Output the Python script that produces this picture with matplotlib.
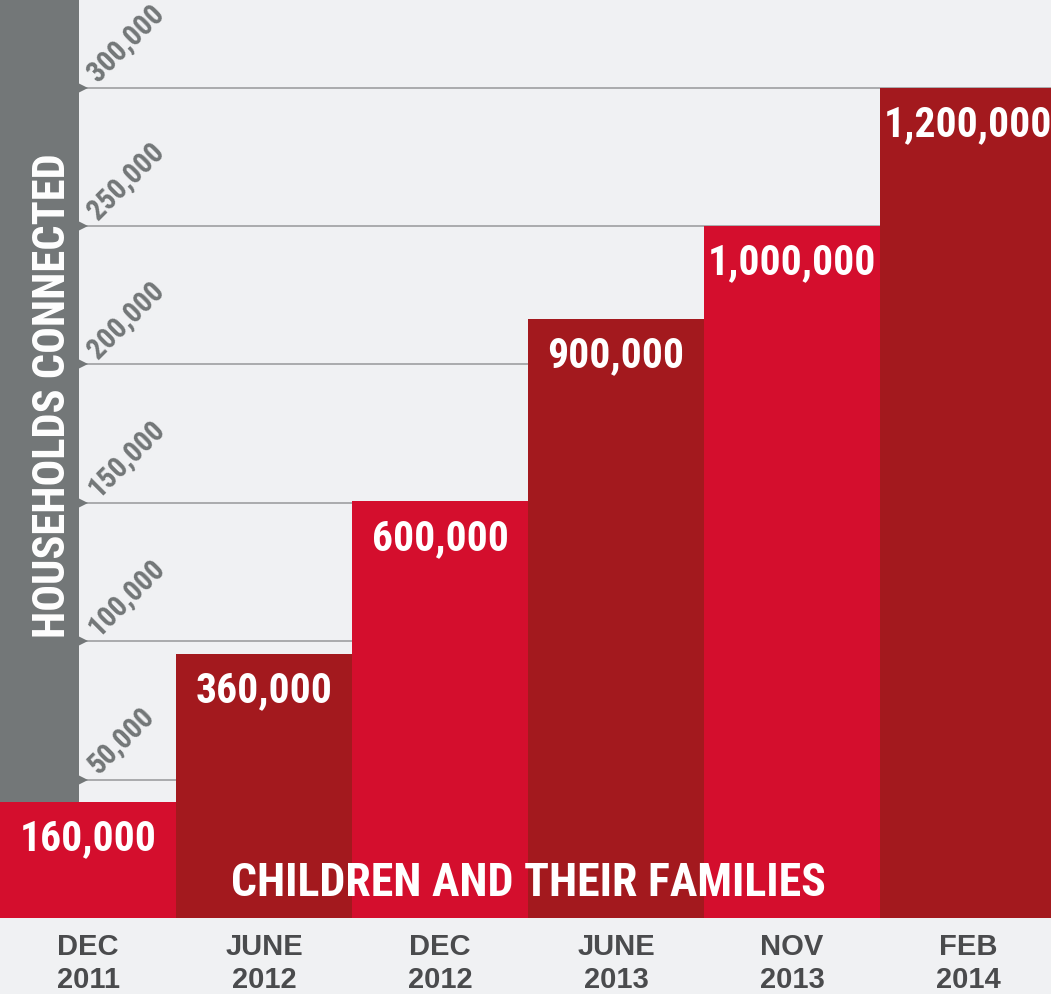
import matplotlib

matplotlib.use("Agg")

import matplotlib.pyplot as plt
from matplotlib.patches import Rectangle

# ---------------------------------------------------------------------------
# Data
# ---------------------------------------------------------------------------
months = ["DEC", "JUNE", "DEC", "JUNE", "NOV", "FEB"]
years = ["2011", "2012", "2012", "2013", "2013", "2014"]
households = [42000, 95500, 150500, 216500, 250000, 300000]
children = ["160,000", "360,000", "600,000", "900,000", "1,000,000", "1,200,000"]
ticks = [50000, 100000, 150000, 200000, 250000, 300000]

BG = "#f0f1f3"
BAND = "#737778"
RED = "#d40e2d"
DARK_RED = "#a3191e"
GRID = "#a4a5a7"
LABEL = "#4a4b4d"
NARROW = ["Roboto Condensed", "Archivo Narrow", "Liberation Sans Narrow", "DejaVu Sans"]

W, H = 1051, 995
fig = plt.figure(figsize=(W / 100, H / 100), dpi=100, facecolor=BG)
ax = fig.add_axes([0, 76 / H, 1, 1 - 76 / H])
ax.set_facecolor(BG)

bar_w_px = 176
x_left = -0.5
x_right = x_left + W / bar_w_px
ax.set_xlim(x_left, x_right)
ymax = 918.3 / 138.3 * 50000
ax.set_ylim(0, ymax)
for s in ax.spines.values():
    s.set_visible(False)
ax.set_xticks([])
ax.set_yticks([])

# gray band on the left
band_edge = x_left + 79 / bar_w_px
ax.add_patch(Rectangle((x_left, 0), band_edge - x_left, ymax, color=BAND,
                       zorder=1, lw=0))
ax.text(x_left + 53 / bar_w_px, 189000, "HOUSEHOLDS CONNECTED",
        rotation=90, ha="center", va="center", color="white",
        fontsize=32, fontweight="bold", family=NARROW, zorder=2)

# gridlines, arrow markers and rotated tick labels
for t in ticks:
    ax.plot([band_edge, x_right], [t, t], color=GRID, lw=1.3, zorder=1.5)
    ax.plot(band_edge + 0.025, t, marker=">", ms=7, color=BAND, mew=0,
            zorder=1.6)
    ax.annotate(f"{t:,}", (band_edge, t), xytext=(19, 6),
                textcoords="offset pixels", rotation=45,
                rotation_mode="anchor", ha="left", va="baseline",
                color=BAND, fontsize=21, fontweight="bold", family=NARROW,
                zorder=1.7)

# bars
colors = [RED if i % 2 == 0 else DARK_RED for i in range(len(households))]
xs = list(range(len(households)))
ax.bar(xs, households, width=1.0, color=colors, lw=0, zorder=3)

for x, h, lab in zip(xs, households, children):
    ax.annotate(lab, (x, h), xytext=(0, -36), textcoords="offset pixels",
                ha="center", va="center", color="white", fontsize=30,
                fontweight="bold", family=NARROW, zorder=4)

ax.text(2.5, 13100, "CHILDREN AND THEIR FAMILIES", ha="center",
        va="center", color="white", fontsize=33, fontweight="bold",
        family=NARROW, zorder=4)

# x labels below the plot
for x, m, y in zip(xs, months, years):
    fx = (x - x_left) * bar_w_px / W
    fig.text(fx, 1 - 947 / H, m, ha="center", va="center", color=LABEL,
             fontsize=21, fontweight="bold", family="Liberation Sans")
    fig.text(fx, 1 - 980 / H, y, ha="center", va="center", color=LABEL,
             fontsize=21, fontweight="bold", family="Liberation Sans")

fig.savefig("out.png", dpi=100, facecolor=BG)
